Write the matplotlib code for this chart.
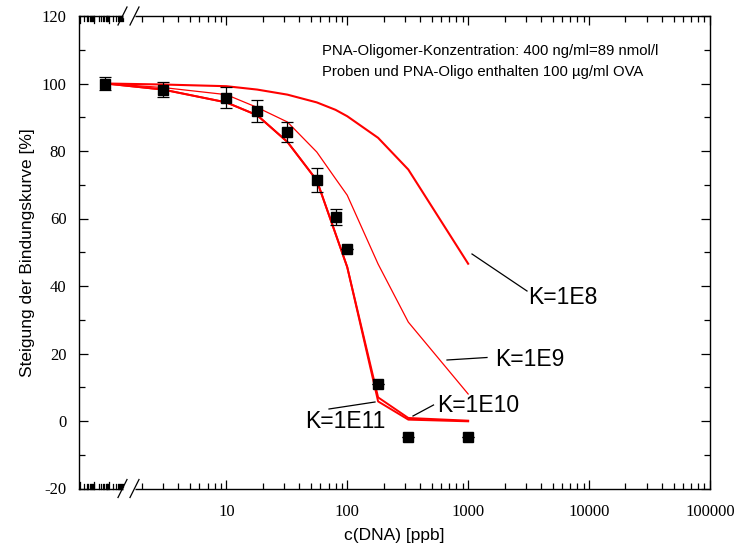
import numpy as np
import matplotlib
matplotlib.use("Agg")
import matplotlib.pyplot as plt
from matplotlib.ticker import FixedLocator, NullFormatter, FixedFormatter

plt.rcParams["axes.unicode_minus"] = False

# ---- data ----
conc = [1, 3, 10, 18, 32, 56, 80, 100, 180, 320, 1000]
slope = [100, 98.2, 95.8, 91.9, 85.6, 71.5, 60.4, 51.1, 11.0, -4.7, -4.7]
slope_err = [1.8, 2.2, 3.2, 3.2, 2.9, 3.5, 2.3, 0, 0, 0, 0]

fit_x = [1, 3, 10, 18, 32, 56, 80, 100, 180, 320, 1000]
fit_k8 = [100, 99.7, 99.2, 98.2, 96.7, 94.4, 92.2, 90.3, 83.9, 74.5, 46.6]
fit_k9 = [100, 98.8, 96.7, 92.9, 88.6, 79.7, 71.8, 66.9, 46.5, 29.3, 8.0]
fit_k10 = [100, 98.2, 94.4, 90.6, 82.7, 71.3, 55.5, 45.6, 7.0, 0.9, 0.1]
fit_k11 = [100, 98.2, 94.4, 90.6, 82.7, 71.3, 55.5, 45.6, 5.8, 0.4, -0.1]

xticks_major = [10, 100, 1000, 10000, 100000]
xtick_labels = ["10", "100", "1000", "10000", "100000"]
yticks_major = [-20, 0, 20, 40, 60, 80, 100, 120]

note_lines = ["PNA-Oligomer-Konzentration: 400 ng/ml=89 nmol/l",
              "Proben und PNA-Oligo enthalten 100 µg/ml OVA"]

W, H = 739, 549
fig = plt.figure(figsize=(W / 100, H / 100), dpi=100)
L, R, T, B = 79, 710, 16, 488.5
ax = fig.add_axes([L / W, 1 - B / H, (R - L) / W, (B - T) / H])

ax.set_xscale("log")
ax.set_xlim(0.605, 100000)
ax.set_ylim(-20, 120)

red = "#ff0000"
ax.plot(fit_x, fit_k8, color=red, lw=1.5, zorder=2)
ax.plot(fit_x, fit_k9, color=red, lw=0.9, zorder=2)
ax.plot(fit_x, fit_k10, color=red, lw=1.4, zorder=2)
ax.plot(fit_x, fit_k11, color=red, lw=1.4, zorder=2)

ax.errorbar(conc, slope, yerr=slope_err, fmt="s", color="black", ms=7.5,
            ecolor="black", elinewidth=0.9, capsize=4, capthick=0.9, zorder=3)

# ticks
ax.xaxis.set_major_locator(FixedLocator(xticks_major))
ax.xaxis.set_major_formatter(FixedFormatter(xtick_labels))
minors = [m * 10 ** d for d in range(0, 5) for m in range(2, 10)]
ax.xaxis.set_minor_locator(FixedLocator(minors))
ax.xaxis.set_minor_formatter(NullFormatter())
ax.yaxis.set_major_locator(FixedLocator(yticks_major))
ax.yaxis.set_minor_locator(FixedLocator(list(range(-10, 120, 20))))

ax.tick_params(which="both", direction="in", top=True, right=True, width=0.9)
ax.tick_params(which="major", length=6.5)
ax.tick_params(which="minor", length=4)
ax.tick_params(axis="x", which="major", pad=11)
ax.tick_params(axis="y", which="major", pad=9)
for lab in ax.get_xticklabels() + ax.get_yticklabels():
    lab.set_fontfamily("Liberation Serif")
    lab.set_fontsize(12)
for s in ax.spines.values():
    s.set_linewidth(1.0)

# dense compressed ticks left of the break
axw = R - L
axh = B - T
for side in (0, 1):
    for g in range(3):
        g0 = g * 14.7
        for k in range(1, 10):
            px = g0 + 14.7 * np.log10(k) + 0.5
            ln = 7 if k == 1 else 5
            fx = px / axw
            if side == 0:
                ax.plot([fx, fx], [0, ln / axh], color="black", lw=0.9,
                        transform=ax.transAxes, clip_on=False, zorder=4)
            else:
                ax.plot([fx, fx], [1, 1 - ln / axh], color="black", lw=0.9,
                        transform=ax.transAxes, clip_on=False, zorder=4)

# axis break marks
for yb in (0, 1):
    gx0 = (122.5 - L) / axw
    gx1 = (134.5 - L) / axw
    ax.plot([gx0, gx1], [yb, yb], color="white", lw=2.5, transform=ax.transAxes,
            clip_on=False, zorder=5, solid_capstyle="butt")
    for cx in (122.5, 134.5):
        x0 = (cx - 4.5 - L) / axw
        x1 = (cx + 4.5 - L) / axw
        ax.plot([x0, x1], [yb - 9 / axh, yb + 9 / axh], color="black", lw=0.9,
                transform=ax.transAxes, clip_on=False, zorder=6)

ax.set_xlabel("c(DNA) [ppb]", family="Liberation Sans", fontsize=12.5, labelpad=6)
ax.set_ylabel("Steigung der Bindungskurve [%]", family="Liberation Sans",
              fontsize=12.5, labelpad=5)

for i, line in enumerate(note_lines):
    fig.text(322 / W, 1 - (50.7 + 21 * i) / H, line, family="Liberation Sans",
             fontsize=10.7, ha="left", va="center")

# K labels with leader lines (figure pixel coordinates)
labels = [("K=1E8", 528, 298, (472, 254), (527, 291)),
          ("K=1E9", 495, 360, (447, 360), (487, 357.5)),
          ("K=1E10", 437, 406, (413, 416), (433.5, 405)),
          ("K=1E11", 305, 422, (329, 409), (375, 402))]
for txt, tx, ty, p0, p1 in labels:
    fig.text(tx / W, 1 - ty / H, txt, family="Liberation Sans", fontsize=16.5,
             ha="left", va="center")
    fig.add_artist(plt.Line2D([p0[0] / W, p1[0] / W], [1 - p0[1] / H, 1 - p1[1] / H],
                              color="black", lw=0.9, transform=fig.transFigure))

fig.savefig("out.png", dpi=100)
